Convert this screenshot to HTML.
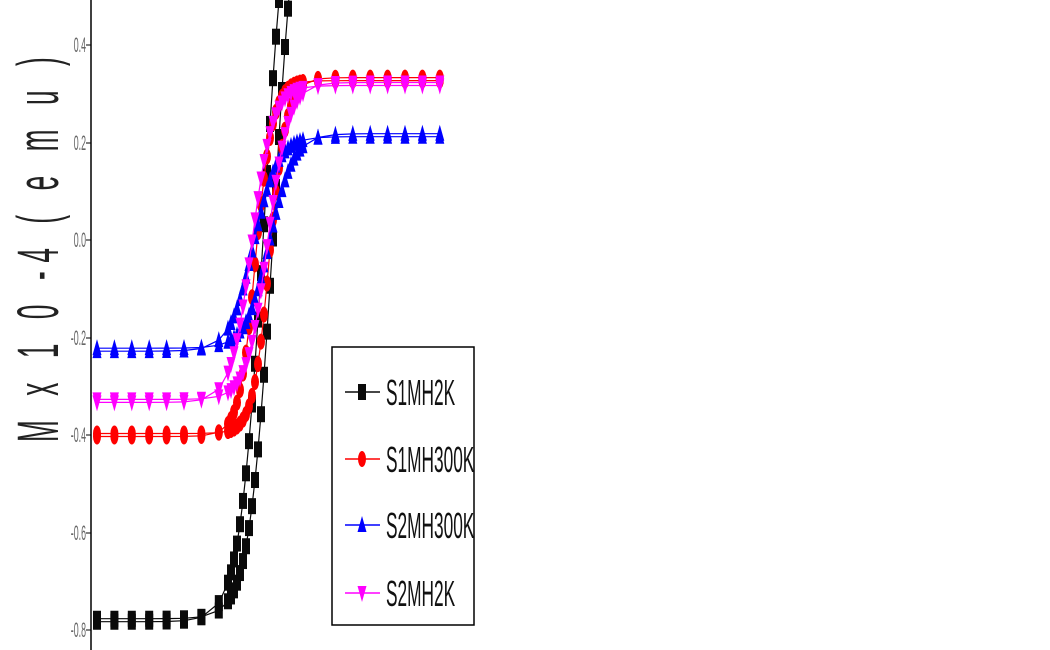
<!DOCTYPE html>
<html><head><meta charset="utf-8"><style>
html,body{margin:0;padding:0;background:#fff;}
svg{display:block;}
text{font-family:"Liberation Sans",sans-serif;}
</style></head><body>
<svg id="s" width="1050" height="650" xmlns="http://www.w3.org/2000/svg">
<rect width="1050" height="650" fill="#fff"/>
<line x1="91" y1="0" x2="91" y2="650" stroke="#000" stroke-width="1.5"/>
<g fill="#666" font-size="21" text-anchor="end">
<text transform="translate(86,52) scale(0.42,1)">0.4</text>
<text transform="translate(86,150) scale(0.42,1)">0.2</text>
<text transform="translate(86,247) scale(0.42,1)">0.0</text>
<text transform="translate(86,345) scale(0.42,1)">-0.2</text>
<text transform="translate(86,442) scale(0.42,1)">-0.4</text>
<text transform="translate(86,540) scale(0.42,1)">-0.6</text>
<text transform="translate(86,637) scale(0.42,1)">-0.8</text>
</g>
<g stroke="#000" stroke-width="1">
<line x1="86" y1="45" x2="91" y2="45"/><line x1="86" y1="143" x2="91" y2="143"/>
<line x1="86" y1="240" x2="91" y2="240"/><line x1="86" y1="338" x2="91" y2="338"/>
<line x1="86" y1="435" x2="91" y2="435"/><line x1="86" y1="533" x2="91" y2="533"/>
<line x1="86" y1="630" x2="91" y2="630"/>
</g>
<text transform="translate(58,442) rotate(-90) scale(0.45,1)" font-size="58" fill="#222" textLength="855" lengthAdjust="spacing">M x 1 0 -4 ( e m u )</text>
<g id="plot"></g>
<rect x="332" y="347" width="142" height="278" fill="#fff" stroke="#000" stroke-width="1.5"/>
<g id="leg"></g>
</svg>
<script>
var NS="http://www.w3.org/2000/svg";
function Y(m){return 240-m*487.5;}
var series=[
 {c:"#0a0a0a",xc:268,w:24,mp:0.85,mn:0.78,h:5,mk:"sq"},
 {c:"#ff0000",xc:264,w:17,mp:0.33,mn:0.40,h:7,mk:"ci"},
 {c:"#0000ff",xc:262,w:24,mp:0.215,mn:0.225,h:8,mk:"tu"},
 {c:"#ff00ff",xc:260,w:21,mp:0.32,mn:0.33,h:8,mk:"td"}
];
var plot=document.getElementById("plot");
function el(t,a,p){var e=document.createElementNS(NS,t);for(var k in a)e.setAttribute(k,a[k]);(p||plot).appendChild(e);return e;}
function marker(x,y,s,p){
 var c=s.c;
 if(s.mk=="sq")el("rect",{x:x-4,y:y-8,width:8,height:16,fill:c},p);
 else if(s.mk=="ci")el("ellipse",{cx:x,cy:y,rx:4,ry:8,fill:c},p);
 else if(s.mk=="tu")el("polygon",{points:(x-4.5)+","+(y+7)+" "+(x+4.5)+","+(y+7)+" "+x+","+(y-9),fill:c},p);
 else el("polygon",{points:(x-4.5)+","+(y-7)+" "+(x+4.5)+","+(y-7)+" "+x+","+(y+9),fill:c},p);
}
function pts(){
 var a=[];for(var x=97;x<225;x+=17.4)a.push(x);
 for(var x=228;x<305;x+=3)a.push(x);
 for(var x=318;x<=442;x+=17.4)a.push(x);
 return a;
}
series.forEach(function(s){
 var xs=pts();
 [-1,1].forEach(function(br){
  var d="",P=[];
  xs.forEach(function(x,i){
   var t=Math.tanh((x-s.xc+br*s.h)/s.w);
   var m=t>0?s.mp*t:s.mn*t;
   var y=Y(m)+br*1.5;
   P.push([x,y]);d+=(i?"L":"M")+x.toFixed(1)+","+y.toFixed(1);
  });
  el("path",{d:d,fill:"none",stroke:s.c,"stroke-width":1.2});
  P.forEach(function(p){if(p[1]>-10&&p[1]<660)marker(p[0],p[1],s);});
 });
});
var leg=document.getElementById("leg");
var names=["S1MH2K","S1MH300K","S2MH300K","S2MH2K"],ys=[392,459,525,593];
series.forEach(function(s,i){
 el("line",{x1:345,y1:ys[i],x2:380,y2:ys[i],stroke:s.c,"stroke-width":1.5},leg);
 marker(362,ys[i],s,leg);
 var t=el("text",{transform:"translate(386,"+(ys[i]+13)+") scale(0.48,1)","font-size":36,fill:"#111"},leg);
 t.textContent=names[i];
});
</script>
</body></html>
